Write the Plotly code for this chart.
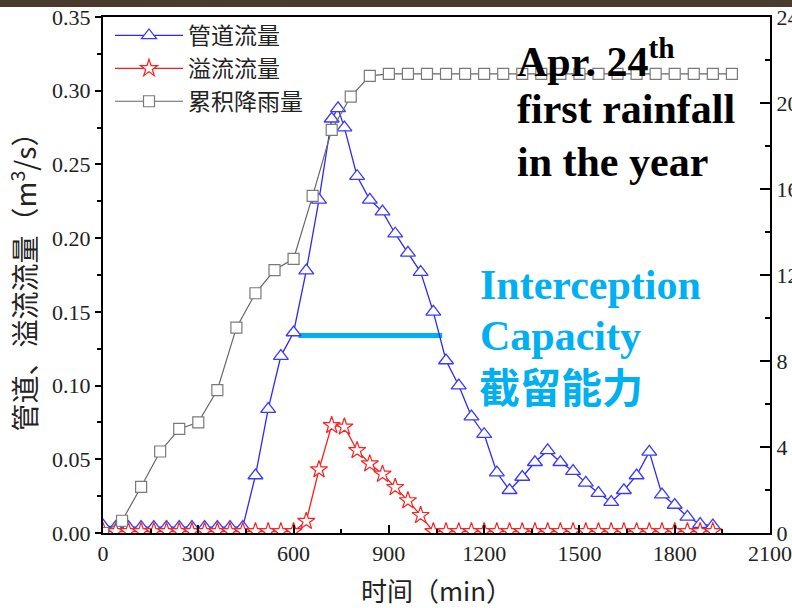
import plotly.graph_objects as go

# ---------------- data ----------------
pipe_t = [0, 40, 80, 120, 160, 200, 240, 280, 320, 360, 400, 440,
          480, 520, 560, 600, 640, 680, 720, 740, 760, 800, 840, 880, 920,
          960, 1000, 1040, 1080, 1120, 1160, 1200, 1240, 1280, 1320, 1360,
          1400, 1440, 1480, 1520, 1560, 1600, 1640, 1680, 1720, 1760, 1800,
          1840, 1880, 1920]
pipe_q = [0.005, 0.004, 0.004, 0.004, 0.004, 0.004, 0.004, 0.004, 0.004, 0.004, 0.004, 0.004,
          0.039, 0.084, 0.120, 0.136, 0.178, 0.226, 0.281, 0.288, 0.275, 0.242, 0.226, 0.218, 0.203,
          0.190, 0.177, 0.150, 0.117, 0.100, 0.079, 0.067, 0.041, 0.029, 0.038, 0.048,
          0.056, 0.048, 0.042, 0.034, 0.027, 0.021, 0.029, 0.039, 0.055, 0.026, 0.019,
          0.011, 0.006, 0.005]

over_t = [0, 40, 80, 120, 160, 200, 240, 280, 320, 360, 400, 440, 480, 520, 560,
          600, 640, 680, 720, 760, 800, 840, 880, 920, 960, 1000, 1040,
          1080, 1120, 1160, 1200, 1240, 1280, 1320, 1360, 1400, 1440, 1480,
          1520, 1560, 1600, 1640, 1680, 1720, 1760, 1800, 1840, 1880, 1920]
over_q = [0.001] * 15 + [0.001, 0.008, 0.043, 0.073, 0.072, 0.056, 0.047, 0.040, 0.031,
                         0.022, 0.012, 0.001] + [0.001] * 22

rain_t = [0, 60, 120, 180, 240, 300, 360, 420, 480, 540, 600, 660, 720, 780, 840,
          900, 960, 1020, 1080, 1140, 1200, 1260, 1320, 1380, 1440, 1500, 1560,
          1620, 1680, 1740, 1800, 1860, 1920, 1980]
rain_mm = [0, 0.57, 2.15, 3.79, 4.84, 5.15, 6.65, 9.55, 11.15, 12.23, 12.75, 15.68,
           18.75, 20.3, 21.26] + [21.35] * 19

capacity_t = [615, 1068]
capacity_q = [0.134, 0.134]

names = ["管道流量", "溢流流量", "累积降雨量"]
x_ticks = [0, 300, 600, 900, 1200, 1500, 1800, 2100]
y_ticks = [0.00, 0.05, 0.10, 0.15, 0.20, 0.25, 0.30, 0.35]
y2_ticks = [0, 4, 8, 12, 16, 20, 24]

# ---------------- figure ----------------
W, H = 792, 608
L, R, T, B = 103, 22, 17, 75
PW, PH = W - L - R, H - T - B


def px(x):
    return (x - L) / PW


def py(y):
    return (H - B - y) / PH


fig = go.Figure()

fig.add_trace(go.Scatter(
    x=capacity_t, y=capacity_q, mode="lines", showlegend=False,
    line=dict(color="#00B0F0", width=5), hoverinfo="skip"))

fig.add_trace(go.Scatter(
    x=pipe_t, y=pipe_q, name=names[0], mode="lines+markers",
    line=dict(color="#2a2aff", width=1.3),
    marker=dict(symbol="triangle-up", size=13, color="white",
                line=dict(color="#3a3aff", width=1.3))))

fig.add_trace(go.Scatter(
    x=over_t, y=over_q, name=names[1], mode="lines+markers",
    line=dict(color="#ff1a1a", width=1.3),
    marker=dict(symbol="star", size=13, color="white",
                line=dict(color="#ff2020", width=1.2))))

fig.add_trace(go.Scatter(
    x=rain_t, y=rain_mm, name=names[2], mode="lines+markers", yaxis="y2",
    line=dict(color="#666666", width=1.2),
    marker=dict(symbol="square", size=11, color="white",
                line=dict(color="#7a7a7a", width=1.2))))

tickfont = dict(family="Liberation Serif", size=22, color="#222222")

fig.update_layout(
    width=W, height=H,
    margin=dict(l=L, r=R, t=T, b=B, pad=0, autoexpand=False),
    paper_bgcolor="white", plot_bgcolor="white",
    showlegend=True,
    legend=dict(x=px(110), y=py(14), xanchor="left", yanchor="top",
                bgcolor="rgba(0,0,0,0)", itemwidth=68,
                font=dict(family="Noto Sans CJK SC", size=23, color="#222222"),
                tracegroupgap=0),
    xaxis=dict(range=[0, 2100], tickvals=x_ticks, ticktext=[str(v) for v in x_ticks],
               automargin=False,
               showgrid=False, zeroline=False, showline=True, linecolor="black",
               linewidth=2, mirror=True, ticks="inside", ticklen=8, tickwidth=2,
               tickcolor="black", tickfont=tickfont,
               minor=dict(dtick=150, ticks="inside", ticklen=4, tickwidth=1.5,
                          tickcolor="black", showgrid=False),
               title=dict(text="时间（min）",
                          font=dict(family="Noto Sans CJK SC", size=26, color="#222222"),
                          standoff=25)),
    yaxis=dict(range=[0, 0.35], tickvals=y_ticks, ticktext=[f"{v:.2f}" for v in y_ticks],
               automargin=False,
               showgrid=False, zeroline=False, showline=True, linecolor="black",
               linewidth=2, ticks="outside", ticklen=6, tickwidth=2,
               tickcolor="black", tickfont=tickfont,
               minor=dict(dtick=0.025, ticks="outside", ticklen=4, tickwidth=1.5,
                          tickcolor="black", showgrid=False),
               title=dict(text="管道、溢流流量（m<sup>3</sup>/s）",
                          font=dict(family="Noto Sans CJK SC", size=28, color="#222222"),
                          standoff=7)),
    yaxis2=dict(range=[0, 24], overlaying="y", side="right", tickvals=y2_ticks,
                ticktext=[str(v) for v in y2_ticks], automargin=False,
                showgrid=False, zeroline=False, showline=True, linecolor="black",
                linewidth=2, ticks="inside", ticklen=10, tickwidth=2,
                tickcolor="black", tickfont=tickfont,
                minor=dict(dtick=2, ticks="inside", ticklen=5, tickwidth=1.5,
                           tickcolor="black", showgrid=False)),
)

# dark strip at the very top (slide background)
fig.add_shape(type="rect", xref="paper", yref="paper",
              x0=px(0), x1=px(W), y0=py(7), y1=py(0),
              fillcolor="#4a3a2c", line=dict(width=0), layer="above")

black_font = dict(family="Liberation Serif", size=42, color="black")
blue_font = dict(family="Liberation Serif", size=42, color="#00B0F0")
cjk_blue = dict(family="Noto Sans CJK SC", size=41, color="#00B0F0")

notes = [
    ("<b>Apr. 24<sup>th</sup></b>", 515, 58, black_font),
    ("<b>first rainfall</b>", 515, 109, black_font),
    ("<b>in the year</b>", 515, 162, black_font),
    ("<b>Interception</b>", 478, 285, blue_font),
    ("<b>Capacity</b>", 478, 336, blue_font),
    ("<b>截留能力</b>", 477, 385, cjk_blue),
]
for text, x, y, f in notes:
    fig.add_annotation(text=text, xref="paper", yref="paper", x=px(x), y=py(y),
                       xanchor="left", yanchor="middle", showarrow=False, font=f,
                       align="left")

fig.write_html("out.html")
